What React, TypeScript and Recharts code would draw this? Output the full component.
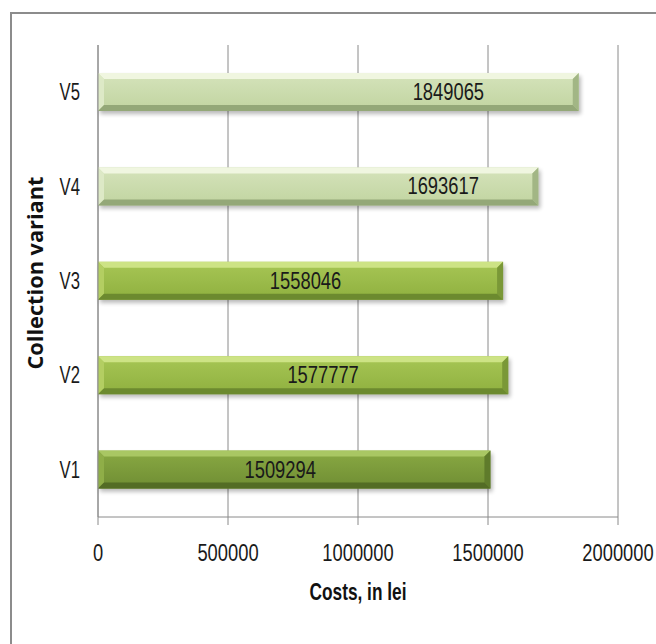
import React from 'react';
import { BarChart, Bar, XAxis, YAxis, CartesianGrid } from 'recharts';

const categories = ['V1', 'V2', 'V3', 'V4', 'V5'];
const costs = [1509294, 1577777, 1558046, 1693617, 1849065];
const xTicks = [0, 500000, 1000000, 1500000, 2000000];

const data = categories.map((c, i) => ({ variant: c, cost: costs[i] }));

// style: shade group per bar and manual label shift (as placed in the original)
const SHADES = ['dark', 'mid', 'mid', 'light', 'light'];
const LABEL_SHIFT = [-14, 20, 5, 125, 110];

const PALETTE: Record<string, any> = {
  dark: { top: '#a9c763', left: '#8fae48', g1: '#89a943', g2: '#6f8d33', bottom: '#536c25', right: '#5f7b2b' },
  mid: { top: '#cde385', left: '#b3ce62', g1: '#a7c655', g2: '#8fb03f', bottom: '#6c8a2f', right: '#7a9837' },
  light: { top: '#f0f6e0', left: '#dde9c6', g1: '#d5e3bb', g2: '#c1d4a0', bottom: '#94a878', right: '#a2b685' },
};

const FONT = "'Liberation Sans', Arial, sans-serif";
const GRID = '#8a8a8a';
const CHAR_W = 10.2; // narrow-glyph advance per character

const NarrowText = (props: any) => {
  const { children, ...rest } = props;
  const s = String(children);
  return (
    <text
      {...rest}
      fontFamily={FONT}
      fontSize={23}
      fill="#1a1a1a"
      textLength={s.length * CHAR_W}
      lengthAdjust="spacingAndGlyphs"
    >
      {s}
    </text>
  );
};

const BevelBar = (props: any) => {
  const { x, y, width, height, index } = props;
  const shade = SHADES[index];
  const p = PALETTE[shade];
  const b = 6;
  const id = `g-${index}`;
  return (
    <g>
      <defs>
        <linearGradient id={id} x1="0" y1="0" x2="0" y2="1">
          <stop offset="0%" stopColor={p.g1} />
          <stop offset="100%" stopColor={p.g2} />
        </linearGradient>
        <filter id={`s-${index}`} x="-10%" y="-50%" width="120%" height="200%">
          <feGaussianBlur stdDeviation="2" />
        </filter>
      </defs>
      <rect x={x + 2} y={y + 3} width={width} height={height} fill="#000" opacity={0.28} filter={`url(#s-${index})`} />
      <rect x={x} y={y} width={width} height={height} fill={`url(#${id})`} />
      <polygon points={`${x},${y} ${x + width},${y} ${x + width - b},${y + b} ${x + b},${y + b}`} fill={p.top} />
      <polygon points={`${x},${y} ${x + b},${y + b} ${x + b},${y + height - b} ${x},${y + height}`} fill={p.left} />
      <polygon points={`${x + width},${y} ${x + width},${y + height} ${x + width - b},${y + height - b} ${x + width - b},${y + b}`} fill={p.right} />
      <polygon points={`${x},${y + height} ${x + b},${y + height - b} ${x + width - b},${y + height - b} ${x + width},${y + height}`} fill={p.bottom} />
      <NarrowText x={x + width / 2 + LABEL_SHIFT[index]} y={y + height / 2 + 8} textAnchor="middle">
        {costs[index]}
      </NarrowText>
    </g>
  );
};

const XTick = (props: any) => {
  const { x, y, payload } = props;
  return (
    <NarrowText x={x} y={y + 36} textAnchor="middle">
      {payload.value}
    </NarrowText>
  );
};

const YTick = (props: any) => {
  const { x, y, payload } = props;
  return (
    <NarrowText x={x} y={y + 8} textAnchor="end">
      {payload.value}
    </NarrowText>
  );
};

export default function App() {
  return (
    <div style={{ position: 'fixed', left: 0, top: 0, width: 656, height: 644, overflow: 'hidden', background: '#fff' }}>
      <div
        style={{
          position: 'absolute',
          left: 10,
          top: 12,
          width: 700,
          height: 700,
          border: '2px solid #8c8c8c',
          boxSizing: 'border-box',
        }}
      />
      <div style={{ position: 'absolute', left: 0, top: 0 }}>
        <BarChart
          width={656}
          height={644}
          data={data}
          layout="vertical"
          margin={{ top: 45, right: 38, bottom: 67, left: 0 }}
        >
          <CartesianGrid horizontal={false} vertical={true} stroke={GRID} strokeWidth={1} />
          <XAxis
            type="number"
            domain={[0, 2000000]}
            ticks={xTicks}
            interval={0}
            height={60}
            tickSize={8}
            tickMargin={0}
            axisLine={{ stroke: GRID }}
            tickLine={{ stroke: GRID }}
            tick={<XTick />}
          />
          <YAxis
            type="category"
            dataKey="variant"
            reversed
            width={98}
            tickSize={0}
            tickMargin={18}
            axisLine={{ stroke: GRID }}
            tickLine={false}
            tick={<YTick />}
          />
          <Bar dataKey="cost" barSize={38} shape={<BevelBar />} isAnimationActive={false} />
          <text
            x={358}
            y={600}
            textAnchor="middle"
            fontFamily={FONT}
            fontWeight="bold"
            fontSize={24}
            fill="#111"
            textLength={97}
            lengthAdjust="spacingAndGlyphs"
          >
            Costs, in lei
          </text>
          <text
            transform="translate(43, 273) rotate(-90)"
            textAnchor="middle"
            fontFamily="'Open Sans', 'DejaVu Sans', sans-serif"
            fontWeight="bold"
            fontSize={21}
            fill="#111"
            textLength={193}
            lengthAdjust="spacingAndGlyphs"
          >
            Collection variant
          </text>
        </BarChart>
      </div>
    </div>
  );
}
